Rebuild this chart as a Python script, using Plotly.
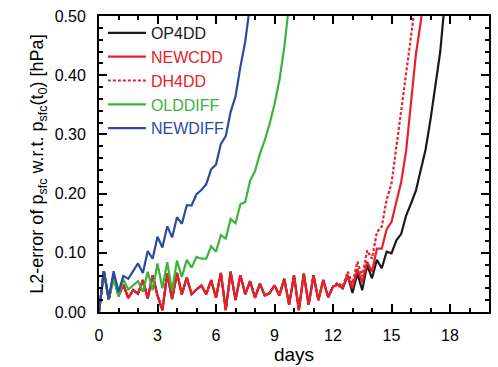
import plotly.graph_objects as go

STEP = 0.25  # days between output samples (6-hourly)

# Shared oscillating part of OP4DD / NEWCDD / DH4DD (days 0 .. 12.75)
common_early = [0.000, 0.069, 0.021, 0.062, 0.027, 0.046, 0.024, 0.037,
                0.031, 0.054, 0.023, 0.062, 0.028, 0.003, 0.065, 0.022,
                0.066, 0.030, 0.058, 0.030, 0.038, 0.045, 0.030, 0.054,
                0.024, 0.066, 0.003, 0.068, 0.020, 0.062, 0.030, 0.052,
                0.024, 0.048, 0.028, 0.032, 0.045, 0.028, 0.056, 0.012,
                0.062, 0.003, 0.065, 0.012, 0.062, 0.020, 0.054, 0.025,
                0.043, 0.046, 0.040, 0.062]

op4dd_tail = [0.032, 0.065, 0.037, 0.079, 0.057, 0.088, 0.074, 0.102,
              0.099, 0.121, 0.132, 0.163, 0.183, 0.205, 0.240, 0.275,
              0.325, 0.380, 0.440, 0.530]
newcdd_tail = [0.040, 0.073, 0.050, 0.085, 0.068, 0.107, 0.107, 0.140,
               0.152, 0.186, 0.220, 0.272, 0.350, 0.435, 0.490, 0.560]
dh4dd_tail = [0.048, 0.085, 0.060, 0.104, 0.090, 0.135, 0.144, 0.190,
              0.217, 0.278, 0.338, 0.395, 0.465, 0.530]
dh4dd_mid = [0.000, 0.069, 0.021, 0.062, 0.027, 0.046, 0.024, 0.037,
             0.031, 0.054, 0.023, 0.062, 0.028, 0.003, 0.065, 0.022,
             0.066, 0.030, 0.058, 0.030, 0.038, 0.045, 0.030, 0.054,
             0.024, 0.066, 0.003, 0.068, 0.020, 0.062, 0.030, 0.052,
             0.024, 0.048, 0.028, 0.032, 0.045, 0.028, 0.056, 0.012,
             0.062, 0.003, 0.065, 0.012, 0.062, 0.020, 0.054, 0.025,
             0.043, 0.050, 0.043, 0.068]

olddiff = [0.000, 0.069, 0.021, 0.055, 0.027, 0.055, 0.038, 0.045,
           0.052, 0.034, 0.068, 0.037, 0.082, 0.040, 0.084, 0.036,
           0.087, 0.059, 0.088, 0.075, 0.093, 0.090, 0.090, 0.111,
           0.102, 0.130, 0.124, 0.157, 0.150, 0.182, 0.186, 0.222,
           0.238, 0.267, 0.290, 0.318, 0.351, 0.391, 0.447, 0.520]
newdiff = [0.000, 0.069, 0.022, 0.069, 0.034, 0.061, 0.056, 0.070,
           0.082, 0.066, 0.103, 0.090, 0.127, 0.109, 0.145, 0.126,
           0.160, 0.149, 0.180, 0.180, 0.199, 0.206, 0.216, 0.241,
           0.249, 0.284, 0.297, 0.338, 0.364, 0.414, 0.457, 0.520]

op4dd = common_early + op4dd_tail
newcdd = common_early + newcdd_tail
dh4dd = dh4dd_mid + dh4dd_tail


def days_for(vals):
    return [i * STEP for i in range(len(vals))]


series = [
    ("OP4DD", op4dd, "#1a1a1a", "solid"),
    ("NEWCDD", newcdd, "#e8202a", "solid"),
    ("DH4DD", dh4dd, "#e8202a", "3px,2px"),
    ("OLDDIFF", olddiff, "#3cb43c", "solid"),
    ("NEWDIFF", newdiff, "#2b4ba0", "solid"),
]

fig = go.Figure()
for name, vals, color, dash in series:
    fig.add_trace(go.Scatter(
        x=days_for(vals), y=vals, mode="lines",
        name=f"<span style='color:{color}'>{name}</span>",
        line=dict(color=color, width=2.2, dash=dash),
    ))

font_family = "Liberation Sans, Arial, Helvetica, sans-serif"
axis_common = dict(
    showline=True, linecolor="black", linewidth=2, mirror="ticks",
    ticks="inside", ticklen=8, tickwidth=2, tickcolor="black",
    showgrid=False, zeroline=False,
    tickfont=dict(family=font_family, size=16, color="black"),
)

fig.update_layout(
    width=498, height=367,
    margin=dict(l=99, r=7, t=16, b=55),
    paper_bgcolor="white", plot_bgcolor="white",
    font=dict(family=font_family, color="black"),
    showlegend=True,
    legend=dict(x=0.01, y=1.0, xanchor="left", yanchor="top",
                bgcolor="rgba(0,0,0,0)", borderwidth=0,
                font=dict(family=font_family, size=16),
                tracegroupgap=0, itemwidth=38),
    xaxis=dict(
        range=[0, 20], tickvals=[0, 3, 6, 9, 12, 15, 18],
        minor=dict(dtick=1, tick0=0, ticks="inside", ticklen=4, tickwidth=1.5,
                   tickcolor="black"),
        ticklabelstandoff=8,
        title=dict(text="days", font=dict(family=font_family, size=19),
                   standoff=2),
        **axis_common,
    ),
    yaxis=dict(
        range=[0, 0.5], tickvals=[0, 0.1, 0.2, 0.3, 0.4, 0.5],
        tickformat=".2f",
        minor=dict(dtick=0.02, tick0=0, ticks="inside", ticklen=4, tickwidth=1.5,
                   tickcolor="black"),
        ticklabelstandoff=8,
        title=dict(text="L2-error of p<sub>sfc</sub> w.r.t. p<sub>sfc</sub>(t<sub>0</sub>) [hPa]",
                   font=dict(family=font_family, size=18), standoff=6),
        **axis_common,
    ),
)

fig.write_html("out.html")
